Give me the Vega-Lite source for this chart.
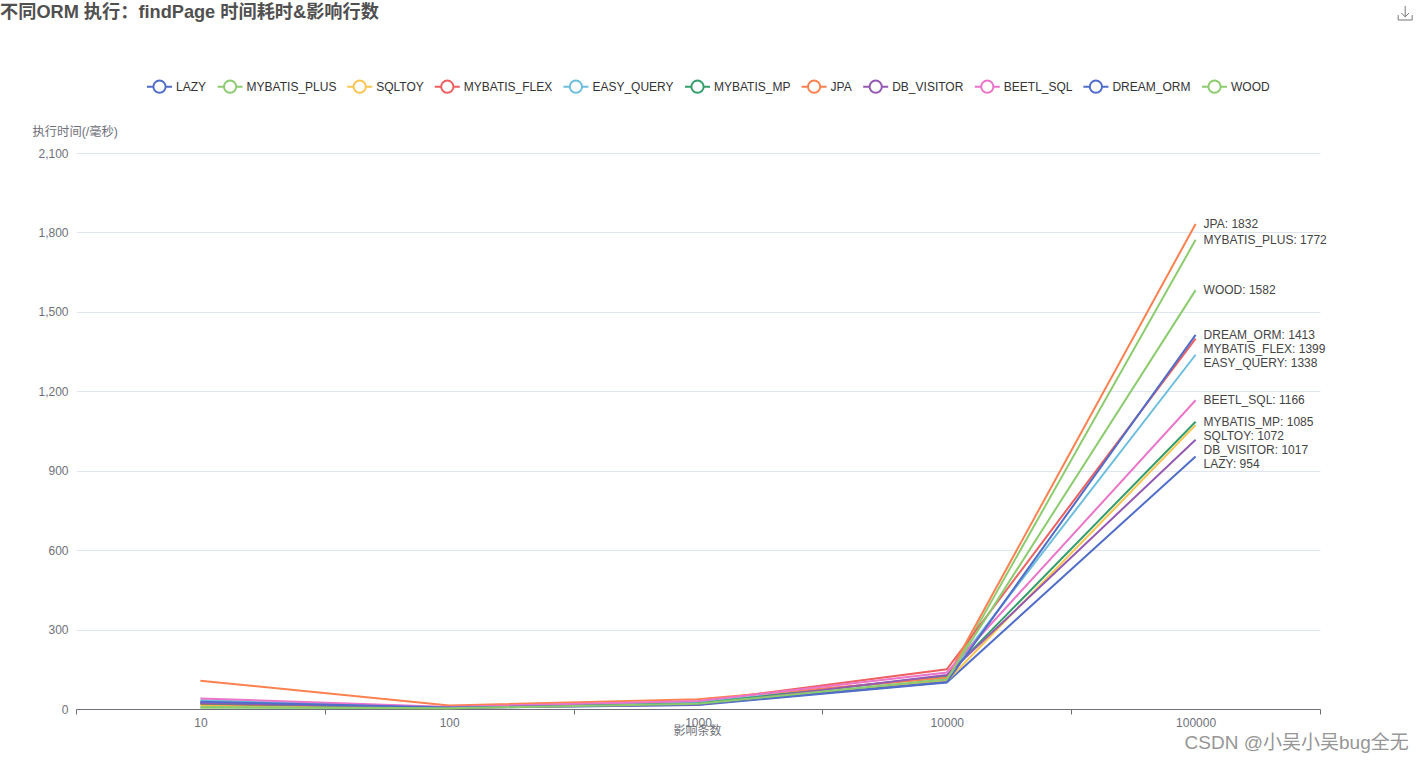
{"$schema":"https://vega.github.io/schema/vega-lite/v6.json","autosize":{"type":"none"},"padding":{"left":76,"top":153,"right":102,"bottom":54},"width":1244,"height":556,"background":"#ffffff","title":{"text":"不同ORM 执行：findPage 时间耗时&影响行数","anchor":"start","frame":"group","dx":-76,"offset":0,"dy":18,"fontSize":18.2,"fontWeight":"bold","color":"#505050","font":"Liberation Sans, Noto Sans CJK SC"},"config":{"view":{"stroke":null},"font":"Liberation Sans, Noto Sans CJK SC"},"data":{"values":[
{"rows":"10","series":"LAZY","ms":25},{"rows":"100","series":"LAZY","ms":4},{"rows":"1000","series":"LAZY","ms":15},{"rows":"10000","series":"LAZY","ms":100},{"rows":"100000","series":"LAZY","ms":954,"label":"LAZY: 954"},
{"rows":"10","series":"MYBATIS_PLUS","ms":5},{"rows":"100","series":"MYBATIS_PLUS","ms":3},{"rows":"1000","series":"MYBATIS_PLUS","ms":20},{"rows":"10000","series":"MYBATIS_PLUS","ms":108},{"rows":"100000","series":"MYBATIS_PLUS","ms":1772,"label":"MYBATIS_PLUS: 1772"},
{"rows":"10","series":"SQLTOY","ms":13},{"rows":"100","series":"SQLTOY","ms":4},{"rows":"1000","series":"SQLTOY","ms":19},{"rows":"10000","series":"SQLTOY","ms":105},{"rows":"100000","series":"SQLTOY","ms":1072,"label":"SQLTOY: 1072"},
{"rows":"10","series":"MYBATIS_FLEX","ms":19},{"rows":"100","series":"MYBATIS_FLEX","ms":7},{"rows":"1000","series":"MYBATIS_FLEX","ms":28},{"rows":"10000","series":"MYBATIS_FLEX","ms":150},{"rows":"100000","series":"MYBATIS_FLEX","ms":1399,"label":"MYBATIS_FLEX: 1399"},
{"rows":"10","series":"EASY_QUERY","ms":33},{"rows":"100","series":"EASY_QUERY","ms":7},{"rows":"1000","series":"EASY_QUERY","ms":25},{"rows":"10000","series":"EASY_QUERY","ms":122},{"rows":"100000","series":"EASY_QUERY","ms":1338,"label":"EASY_QUERY: 1338"},
{"rows":"10","series":"MYBATIS_MP","ms":21},{"rows":"100","series":"MYBATIS_MP","ms":5},{"rows":"1000","series":"MYBATIS_MP","ms":21},{"rows":"10000","series":"MYBATIS_MP","ms":125},{"rows":"100000","series":"MYBATIS_MP","ms":1085,"label":"MYBATIS_MP: 1085"},
{"rows":"10","series":"JPA","ms":107},{"rows":"100","series":"JPA","ms":13},{"rows":"1000","series":"JPA","ms":37},{"rows":"10000","series":"JPA","ms":118},{"rows":"100000","series":"JPA","ms":1832,"label":"JPA: 1832"},
{"rows":"10","series":"DB_VISITOR","ms":23},{"rows":"100","series":"DB_VISITOR","ms":5},{"rows":"1000","series":"DB_VISITOR","ms":16},{"rows":"10000","series":"DB_VISITOR","ms":128},{"rows":"100000","series":"DB_VISITOR","ms":1017,"label":"DB_VISITOR: 1017"},
{"rows":"10","series":"BEETL_SQL","ms":40},{"rows":"100","series":"BEETL_SQL","ms":8},{"rows":"1000","series":"BEETL_SQL","ms":30},{"rows":"10000","series":"BEETL_SQL","ms":138},{"rows":"100000","series":"BEETL_SQL","ms":1166,"label":"BEETL_SQL: 1166"},
{"rows":"10","series":"DREAM_ORM","ms":27},{"rows":"100","series":"DREAM_ORM","ms":6},{"rows":"1000","series":"DREAM_ORM","ms":18},{"rows":"10000","series":"DREAM_ORM","ms":102},{"rows":"100000","series":"DREAM_ORM","ms":1413,"label":"DREAM_ORM: 1413"},
{"rows":"10","series":"WOOD","ms":8},{"rows":"100","series":"WOOD","ms":3},{"rows":"1000","series":"WOOD","ms":20},{"rows":"10000","series":"WOOD","ms":112},{"rows":"100000","series":"WOOD","ms":1582,"label":"WOOD: 1582"}
]},
"encoding":{
"x":{"field":"rows","type":"nominal","sort":["10","100","1000","10000","100000"],"scale":{"type":"band","paddingInner":0,"paddingOuter":0},"axis":{"title":"影响条数","titleFontSize":12,"titleFontWeight":"normal","titleColor":"#6E7079","titleY":21,"titleBaseline":"middle","titleX":621,"titleAnchor":"middle","labelAngle":0,"labelFontSize":12,"labelColor":"#6E7079","labelPadding":3,"tickBand":"extent","tickColor":"#6E7079","tickSize":5,"domainColor":"#6E7079","grid":false}},
"y":{"field":"ms","type":"quantitative","scale":{"domain":[0,2100],"nice":false},"axis":{"values":[0,300,600,900,1200,1500,1800,2100],"format":",.0f","title":"执行时间(/毫秒)","titleAngle":0,"titleFontSize":12.3,"titleFontWeight":"normal","titleColor":"#6E7079","titleAlign":"left","titleBaseline":"middle","titleX":-44,"titleY":-22,"labelFontSize":12,"labelColor":"#6E7079","labelPadding":8,"ticks":false,"domain":false,"grid":true,"gridColor":"#E0E6F1","gridWidth":1}}
},
"layer":[
{"mark":{"type":"line","strokeWidth":2,"interpolate":"linear"},"encoding":{"color":{"field":"series","type":"nominal","sort":null,"scale":{"domain":["LAZY","MYBATIS_PLUS","SQLTOY","MYBATIS_FLEX","EASY_QUERY","MYBATIS_MP","JPA","DB_VISITOR","BEETL_SQL","DREAM_ORM","WOOD"],"range":["#4F6DC9","#8CCB6E","#FAC550","#EE5F60","#6DBEDE","#349E6C","#FC8050","#9459B2","#EA75CA","#4F6DC9","#8CCB6E"]},"legend":{"title":null,"orient":"none","legendX":70,"legendY":-80,"direction":"horizontal","columns":11,"columnPadding":6.6,"symbolType":"M-1,0L-0.49,0M0.49,0L1,0M-0.49,0A0.49,0.49,0,1,1,0.49,0A0.49,0.49,0,1,1,-0.49,0Z","symbolSize":625,"symbolStrokeWidth":2,"symbolFillColor":"#ffffff","labelFontSize":12,"labelColor":"#333333","labelOffset":3,"labelLimit":200}}}},
{"transform":[{"filter":{"field":"series","oneOf":["JPA","MYBATIS_PLUS","WOOD","DREAM_ORM","BEETL_SQL","MYBATIS_MP"]}},{"filter":{"field":"rows","equal":"100000"}}],"mark":{"type":"text","align":"left","baseline":"middle","dx":8,"fontSize":12,"color":"#444444"},"encoding":{"text":{"field":"label"}}},
{"transform":[{"filter":{"field":"series","oneOf":["MYBATIS_FLEX","SQLTOY","DB_VISITOR"]}},{"filter":{"field":"rows","equal":"100000"}}],"mark":{"type":"text","align":"left","baseline":"middle","dx":8,"dy":10.5,"fontSize":12,"color":"#444444"},"encoding":{"text":{"field":"label"}}},
{"transform":[{"filter":{"field":"series","oneOf":["EASY_QUERY","LAZY"]}},{"filter":{"field":"rows","equal":"100000"}}],"mark":{"type":"text","align":"left","baseline":"middle","dx":8,"dy":8,"fontSize":12,"color":"#444444"},"encoding":{"text":{"field":"label"}}},
{"data":{"values":[{"rows":"100000","ms":0,"note":"CSDN @小吴小吴bug全无"}]},"mark":{"type":"text","align":"left","baseline":"middle","dx":-11,"dy":34,"fontSize":19,"color":"#969696"},"encoding":{"text":{"field":"note"}}},
{"data":{"values":[{"rows":"100000","ms":2100,"icon":"download"}]},"mark":{"type":"point","filled":false,"shape":"M-1,0.3V1H1V0.3M0,-1V0.55M-0.55,0L0,0.55L0.55,0","size":196,"strokeWidth":1,"color":"#777777","opacity":1},"encoding":{"xOffset":{"value":334},"yOffset":{"value":-140}}}
]}
